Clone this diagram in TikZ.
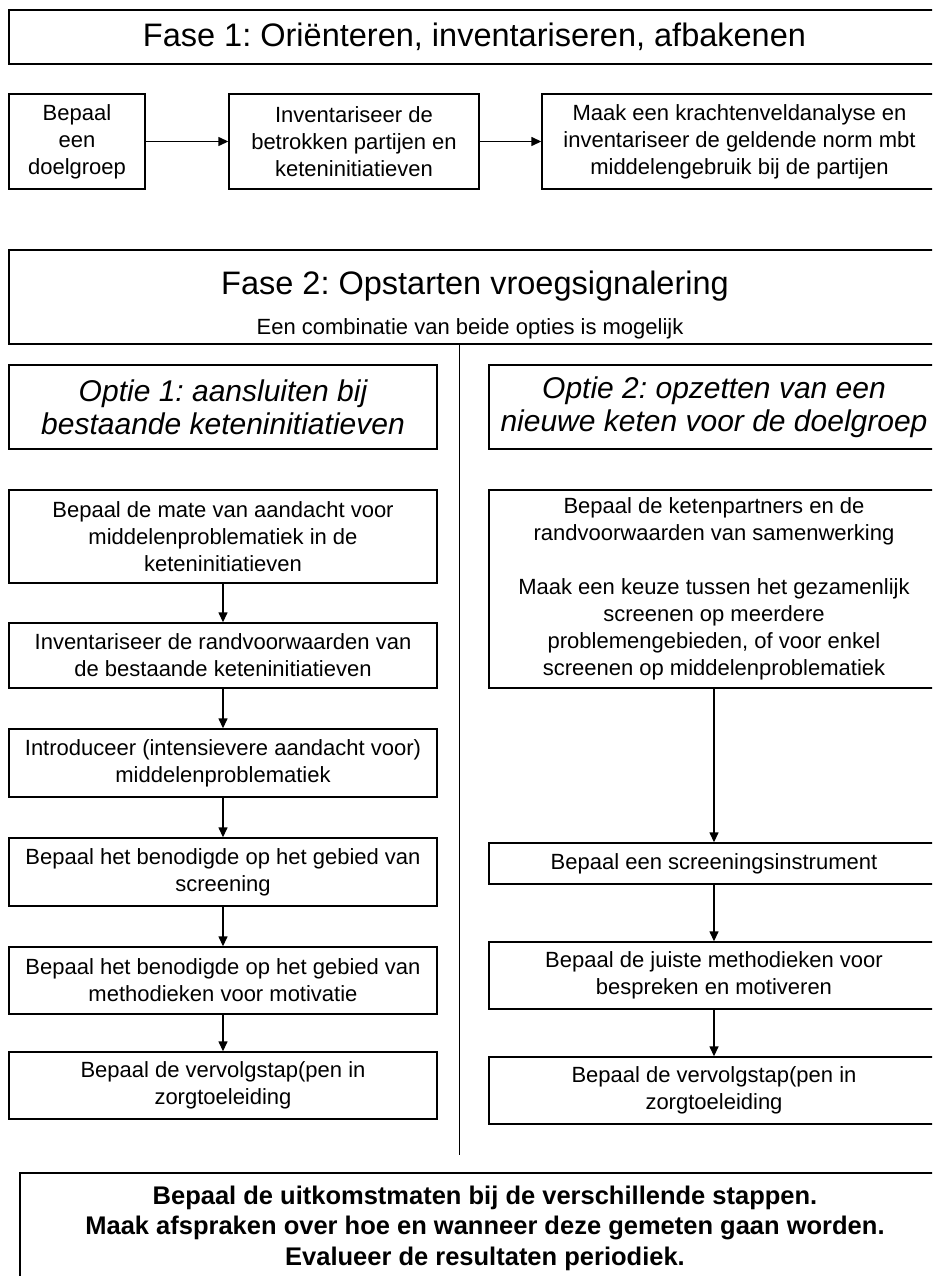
\documentclass[tikz,border=0pt]{standalone}
\usepackage{fontspec}
\setmainfont{Liberation Sans}
\usetikzlibrary{arrows.meta}
\frenchspacing
\begin{document}
\begin{tikzpicture}[x=1pt,y=-1pt,
  box/.style={draw, line width=1.4pt, align=center, inner sep=0pt, font=\fontsize{22}{27}\selectfont},
  ttl/.style={align=center, inner sep=0pt, font=\fontsize{32.5}{38}\selectfont},
  opt/.style={box, font=\fontsize{30}{33}\selectfont\itshape},
  plain/.style={align=center, inner sep=0pt, font=\fontsize{22}{27}\selectfont},
  bold/.style={align=center, inner sep=0pt, font=\fontsize{25.5}{30.5}\selectfont\bfseries},
  arr/.style={line width=1.4pt, -{Triangle[length=10pt,width=9pt]}},
  divline/.style={line width=1pt},
]
\frenchspacing
\useasboundingbox (0,0) rectangle (932,1276);
\fill[white] (0,0) rectangle (932,1276);
\clip (0,0) rectangle (932,1276);

% Fase 1
\node[box, ttl, draw, line width=1.4pt, minimum width=931, minimum height=54] (F1) at (474.5,37) {Fase 1: Oriënteren, inventariseren, afbakenen};
\node[box, minimum width=136, minimum height=95] (S1) at (77,141.5) {Bepaal\\een\\doelgroep};
\node[box, minimum width=250, minimum height=95] (S2) at (354,141.5) {Inventariseer de\\betrokken partijen en\\keteninitiatieven};
\node[box, minimum width=395, minimum height=95] (S3) at (739.5,141.5) {Maak een krachtenveldanalyse en\\inventariseer de geldende norm mbt\\middelengebruik bij de partijen};
\draw[arr] (S1) -- (S2);
\draw[arr] (S2) -- (S3);

% Fase 2
\node[box, minimum width=931, minimum height=94] (F2) at (474.5,297) {};
\node[ttl] (F2t) at (475,286) {Fase 2: Opstarten vroegsignalering};
\node[plain] (F2s) at (470,329) {Een combinatie van beide opties is mogelijk};
\coordinate (dtop) at (459,344);
\coordinate (dbot) at (459,1155);
\draw[divline] (dtop) -- (dbot);

\node[opt, minimum width=428, minimum height=84] (O1) at (223,407) {Optie 1: aansluiten bij\\bestaande keteninitiatieven};
\node[opt, minimum width=450, minimum height=84] (O2) at (714,407) {Optie 2: opzetten van een\\nieuwe keten voor de doelgroep};

% left column
\node[box, minimum width=428, minimum height=93] (L1) at (223,536.5) {Bepaal de mate van aandacht voor\\middelenproblematiek in de\\keteninitiatieven};
\node[box, minimum width=428, minimum height=65] (L2) at (223,655.5) {Inventariseer de randvoorwaarden van\\de bestaande keteninitiatieven};
\node[box, minimum width=428, minimum height=68] (L3) at (223,763) {Introduceer (intensievere aandacht voor)\\middelenproblematiek};
\node[box, minimum width=428, minimum height=68] (L4) at (223,872) {Bepaal het benodigde op het gebied van\\screening};
\node[box, minimum width=428, minimum height=67] (L5) at (223,980.5) {Bepaal het benodigde op het gebied van\\methodieken voor motivatie};
\node[box, minimum width=428, minimum height=67] (L6) at (223,1085.5) {Bepaal de vervolgstap(pen in\\zorgtoeleiding};
\draw[arr] (L1) -- (L2);
\draw[arr] (L2) -- (L3);
\draw[arr] (L3) -- (L4);
\draw[arr] (L4) -- (L5);
\draw[arr] (L5) -- (L6);

% right column
\node[box, minimum width=450, minimum height=198] (R1) at (714,589) {Bepaal de ketenpartners en de\\randvoorwaarden van samenwerking\\[27pt]Maak een keuze tussen het gezamenlijk\\screenen op meerdere\\problemengebieden, of voor enkel\\screenen op middelenproblematiek};
\node[box, minimum width=450, minimum height=41] (R2) at (714,863.5) {Bepaal een screeningsinstrument};
\node[box, minimum width=450, minimum height=67] (R3) at (714,975.5) {Bepaal de juiste methodieken voor\\bespreken en motiveren};
\node[box, minimum width=450, minimum height=67] (R4) at (714,1090.5) {Bepaal de vervolgstap(pen in\\zorgtoeleiding};
\draw[arr] (R1) -- (R2);
\draw[arr] (R2) -- (R3);
\draw[arr] (R3) -- (R4);

% bottom
\node[box, minimum width=930, minimum height=146] (B) at (485,1246) {};
\node[bold] (Bt) at (485,1228) {Bepaal de uitkomstmaten bij de verschillende stappen.\\Maak afspraken over hoe en wanneer deze gemeten gaan worden.\\Evalueer de resultaten periodiek.};
\end{tikzpicture}
\end{document}
